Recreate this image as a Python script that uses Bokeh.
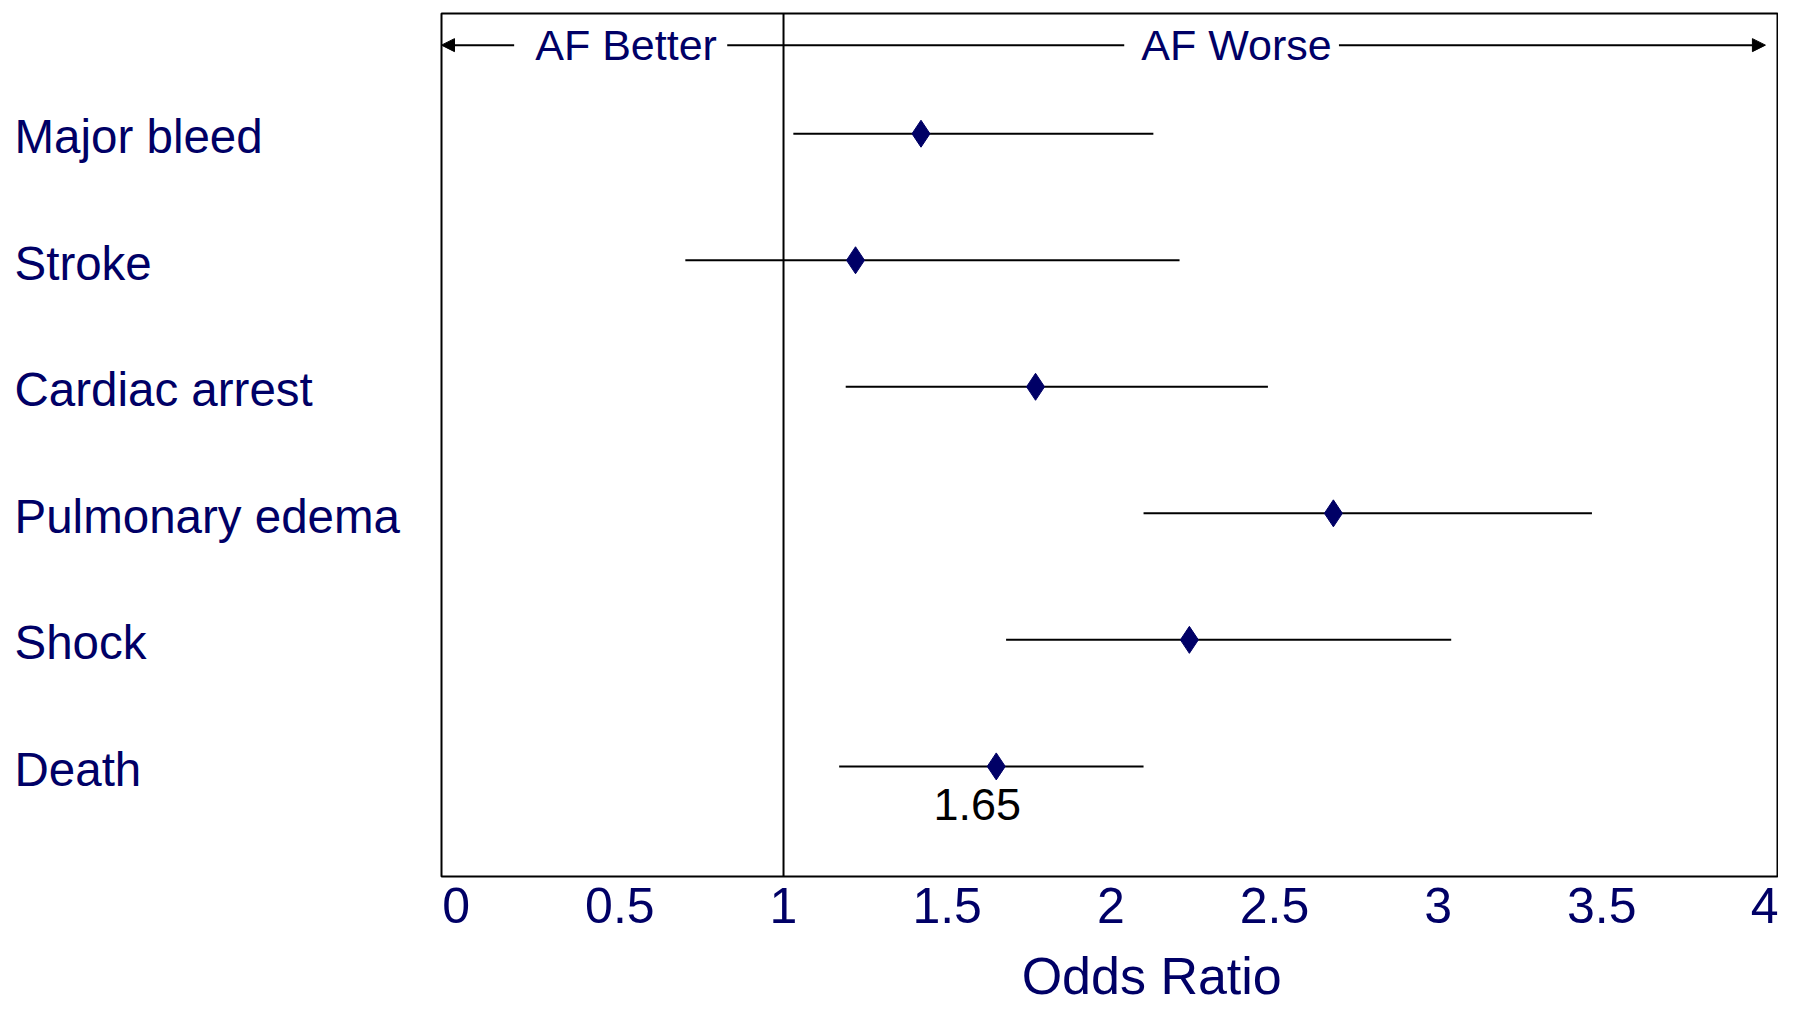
from bokeh.plotting import figure
from bokeh.models import Range1d, ColumnDataSource, Span, Arrow, NormalHead, Label, FixedTicker
from bokeh.layouts import row, column
from bokeh.embed import file_html
from bokeh.resources import INLINE
from bokeh.core.properties import value

# ---------------- data ----------------
categories = ["Major bleed", "Stroke", "Cardiac arrest", "Pulmonary edema", "Shock", "Death"]
odds_ratio = [1.42, 1.22, 1.77, 2.68, 2.24, 1.65]
ci_lower = [1.03, 0.70, 1.19, 2.10, 1.68, 1.17]
ci_upper = [2.13, 2.21, 2.48, 3.47, 3.04, 2.10]
x_ticks = [0, 0.5, 1, 1.5, 2, 2.5, 3, 3.5, 4]
x_tick_labels = ["0", "0.5", "1", "1.5", "2", "2.5", "3", "3.5", "4"]
null_value = 1
annotated_category = "Death"
annotated_text = "1.65"
x_title = "Odds Ratio"
better_text = "AF Better"
worse_text = "AF Worse"

# ---------------- style ----------------
FONT = "Liberation Sans"
NAVY = "#000066"
H_MAIN = 946
H_TITLE = 60
W_LEFT = 401
W_RIGHT = 1377
FRAME_LEFT = 40

n = len(categories)
rows = [n - 1 - i for i in range(n)]  # first category at top
src = ColumnDataSource(dict(cat=categories, y=rows, orr=odds_ratio, lo=ci_lower, hi=ci_upper))

y_range = Range1d(-0.87, 5.95)
x_range = Range1d(-0.045, 4.04)

# left panel: category labels
lp = figure(width=W_LEFT, height=H_MAIN, x_range=Range1d(0, 1), y_range=y_range,
            output_backend="svg", toolbar_location=None,
            x_axis_location=None, y_axis_location=None,
            min_border_left=0, min_border_right=0, min_border_top=13, min_border_bottom=70)
lp.outline_line_color = None
lp.grid.visible = False
lp.text(x=0, y="y", text="cat", source=src, x_offset=14, y_offset=3,
        text_align="left", text_baseline="middle",
        text_font=value(FONT), text_font_size=value("47.5px"), text_color=NAVY)

# main panel
p = figure(width=W_RIGHT, height=H_MAIN, x_range=x_range, y_range=y_range,
           output_backend="svg", toolbar_location=None, y_axis_location=None,
           min_border_left=FRAME_LEFT, min_border_right=0, min_border_top=13, min_border_bottom=70)
p.grid.visible = False
p.outline_line_color = "black"
p.outline_line_width = 2
p.outline_line_alpha = 1.0

ax = p.xaxis[0]
ax.ticker = FixedTicker(ticks=x_ticks)
ax.major_label_overrides = {t: l for t, l in zip(x_ticks, x_tick_labels)}
ax.axis_line_color = None
ax.major_tick_line_color = None
ax.minor_tick_line_color = None
ax.major_tick_out = 0
ax.major_tick_in = 0
ax.major_label_standoff = 11
ax.major_label_text_font = FONT
ax.major_label_text_font_size = "50px"
ax.major_label_text_color = NAVY

# null line
p.add_layout(Span(location=null_value, dimension="height", line_color="black", line_width=2))

# CIs and point estimates
p.segment(x0="lo", x1="hi", y0="y", y1="y", source=src, line_color="black", line_width=2)
p.scatter(x="orr", y="y", source=src, marker="diamond", size=27,
          fill_color=NAVY, line_color=NAVY)

# annotation under Death
k = categories.index(annotated_category)
p.add_layout(Label(x=odds_ratio[k], y=rows[k], text=annotated_text, x_offset=-19, y_offset=-38,
                   text_align="center", text_baseline="middle",
                   text_font=FONT, text_font_size="45px", text_color="black"))

# header: AF Better / AF Worse
hy = 5.70
head = dict(size=13, fill_color="black", line_color="black")
p.add_layout(Arrow(end=NormalHead(**head), x_start=0.177, y_start=hy, x_end=x_range.start, y_end=hy,
                   line_color="black", line_width=2))
p.add_layout(Arrow(end=None, x_start=0.828, y_start=hy, x_end=2.041, y_end=hy,
                   line_color="black", line_width=2))
p.add_layout(Arrow(end=NormalHead(**head), x_start=2.697, y_start=hy, x_end=4.0, y_end=hy,
                   line_color="black", line_width=2))
for txt, xc in [(better_text, 0.519), (worse_text, 2.384)]:
    p.add_layout(Label(x=xc, y=hy, text=txt, text_align="center", text_baseline="middle",
                       text_font=FONT, text_font_size="43px", text_color=NAVY))

# x-axis title strip (shares the x scale of the main panel)
bp = figure(width=W_LEFT + W_RIGHT, height=H_TITLE, x_range=x_range, y_range=Range1d(0, H_TITLE),
            output_backend="svg", toolbar_location=None,
            x_axis_location=None, y_axis_location=None,
            min_border_left=W_LEFT + FRAME_LEFT, min_border_right=0, min_border_top=0, min_border_bottom=0)
bp.outline_line_color = None
bp.grid.visible = False
bp.text(x=[2.125], y=[31], text=[x_title], text_align="center", text_baseline="middle",
        text_font=value(FONT), text_font_size=value("52px"), text_color=NAVY)

layout = column(row(lp, p, spacing=0), bp, spacing=0)
open("out.html", "w").write(file_html(layout, INLINE))
